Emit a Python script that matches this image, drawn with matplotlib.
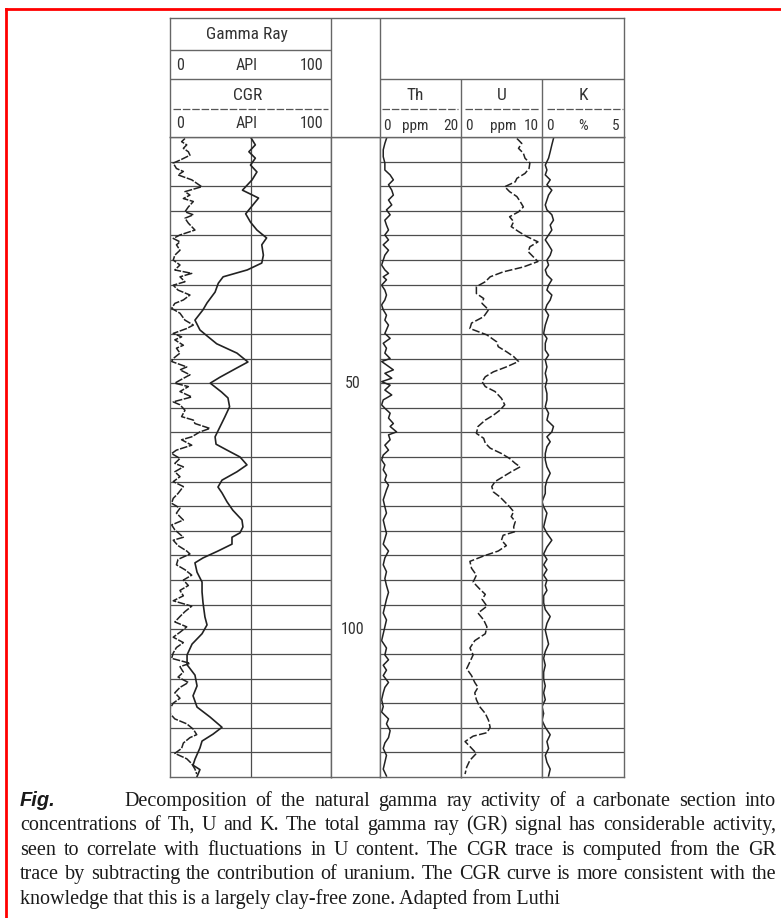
import numpy as np
import matplotlib
matplotlib.use("Agg")
import matplotlib.pyplot as plt
from matplotlib.lines import Line2D

W, H = 781, 918
TOP, BOT = 137, 777          # pixel rows of the log body
INK = "#222222"
GRID = "#4d4d4d"
EDGE = "#666666"
NARROW = ["Liberation Sans Narrow", "Roboto Condensed", "Open Sans Condensed", "DejaVu Sans"]

# total gamma ray (smooth, solid) - depth in log units, API
gr_depth = [0, 1.6, 3, 4.3, 5.7, 7.1, 8.7, 10.8, 12.4, 14, 15.6, 17.3, 18.9, 20.5, 21.9, 24, 25.6, 27, 28.4, 29.7,
            31.5, 33.7, 35.1, 37.2, 39.2, 40.4, 42, 43.9, 45.7, 46.9, 48.8, 50, 51.8, 53, 54.8, 56.9, 58.9, 60.9, 62.4, 63.6,
            65, 66.6, 68, 69.7, 71.1, 72.3, 74.1, 75.8, 77.8, 79.2, 80.4, 81.3, 82.7, 84.1, 85.5, 86.5, 88.4, 90.4, 92.4, 94.6,
            97.5, 99.1, 100.9, 103, 105.2, 107.2, 109.3, 111.5, 113.5, 115.8, 117.8, 119.9, 121.3, 122.7, 124.1, 126.4, 127.6, 128.5, 129.9]
gr_api = [50, 53, 49, 53, 50, 54, 51, 45, 55, 51, 47, 50, 54, 60, 57, 58, 57, 48, 33, 30,
          28, 23, 20.5, 15.5, 18.6, 23, 29, 41.6, 48.4, 41.6, 31, 25, 32, 36, 37, 34, 31, 28, 28.6, 35.4,
          43.5, 47.8, 41.6, 32.3, 29.8, 32.3, 35.4, 39, 44.7, 45.3, 43.5, 38.5, 38.5, 29.8, 20.5, 15.5, 16.8, 19.9, 19.9, 20.5,
          21.7, 23, 19.9, 13.7, 10.6, 10.6, 15.5, 16.8, 14.3, 16.8, 24.8, 32.3, 26.7, 19.9, 18.6, 15.5, 14.3, 18.6, 16.8]

# computed gamma ray (uranium removed, dashed)
cgr_depth = [0.3, 0.95, 1.6, 2.3, 3.0, 3.7, 4.7, 5.3, 6.4, 7.0, 7.7, 8.7, 9.4, 10.1, 11.1, 11.8, 12.5, 13.1, 14.2, 15.2,
             15.8, 16.5, 17.5, 18.9, 19.9, 20.6, 21.3, 21.9, 23, 24, 25, 26, 27, 27.7, 28.4, 29.4, 30.1, 31.1, 32.1, 33.1,
             33.8, 34.8, 35.8, 37.2, 38.2, 38.9, 39.9, 40.6, 41.2, 42.3, 42.9, 43.9, 45, 45.6, 46.7, 47.3, 48.3, 49.4, 50, 50.7,
             51.7, 52.8, 53.8, 54.4, 55.5, 56.8, 57.5, 58.2, 59.2, 59.9, 60.9, 61.5, 62.6, 63.6, 64.3, 65.3, 66.3, 67, 68, 69,
             70, 71, 72.4, 73.4, 74.4, 75.4, 76.4, 77.8, 78.8, 79.8, 81.3, 81.9, 83, 84.1, 84.7, 85.8, 86.9, 87.9, 89, 90,
             91.1, 92.1, 93.2, 94.2, 95.3, 96.4, 97.4, 98.5, 99.5, 100.6, 101.6, 102.7, 103.7, 104.8, 105.9, 106.9, 107.6, 108.7, 109.7, 110.8,
             111.8, 112.9, 114, 115, 116.1, 117.1, 118.2, 119.2, 120.3, 121.4, 122, 123.1, 124.2, 125.2, 126.3, 127.3, 128.4, 129.4]
cgr_api = [9.3, 7.2, 10.4, 8.3, 11.4, 12.4, 6.2, 2, 4, 8.3, 5, 13.5, 16.6, 19.7, 9.3, 12.4, 8.3, 14.5, 11.4, 9.3,
           14.5, 9.3, 11.4, 15.5, 6.2, 2, 6.2, 4, 6.2, 3, 2, 6.2, 3, 13.5, 6.2, 9.3, 2, 5, 12.4, 8.3,
           3, 1, 6.2, 9.3, 14.5, 10.4, 2, 7.2, 3, 8.3, 4, 6.2, 2, 1, 10.4, 6.2, 12.4, 6.2, 3, 11.4,
           6.2, 13.5, 2, 6.2, 9.3, 7.2, 14.5, 15.5, 24.8, 18.6, 13.5, 7.2, 13.5, 4, 1, 6.2, 3, 8.3, 3, 6.2,
           2, 8.3, 5, 2, 1, 6.2, 4, 8.3, 1, 3, 8.3, 2, 5, 10.4, 12.4, 5, 4, 9.3, 13.5, 8.3,
           11.4, 6.2, 8.3, 2, 13.5, 9.3, 6.2, 3, 10.4, 6.2, 2, 8.3, 4, 2, 1, 12.4, 6.2, 8.3, 5, 11.4,
           6.2, 3, 6.2, 2, 0, 0, 3, 10.4, 14.5, 16.6, 12.4, 8.3, 7.2, 3, 10.4, 13.5, 15.5, 16.6]

# thorium, ppm
th_depth = [0.3, 1.3, 2.6, 4.0, 5.3, 6.7, 7.7, 8.7, 9.7, 10.8, 11.8, 12.8, 13.8, 14.8, 15.8, 16.9, 17.9, 18.9, 19.9, 20.9,
            21.9, 23, 24, 25, 26, 27, 27.7, 28.4, 29, 30.1, 31.1, 32.1, 33.1, 34.1, 35.1, 36.2, 37.2, 38.2, 39.9, 40.9,
            41.9, 42.9, 43.9, 45, 45.6, 46.3, 47.3, 48, 49, 49.7, 50.4, 51.4, 52.4, 53.4, 54.4, 55.1, 56.1, 57.1, 58.2, 58.8,
            59.9, 60.5, 61.5, 62.6, 63.6, 64.6, 65.6, 66.6, 67.6, 68.7, 69.7, 70.7, 71.7, 72.7, 73.7, 75.1, 76.4, 77.8, 79.2, 80.5,
            82.7, 84.1, 85.5, 86.9, 88.3, 89.7, 91.1, 92.5, 93.9, 95.3, 96.7, 98.1, 99.5, 100.9, 102.3, 103.8, 105.2, 106.2, 107.3, 108.3,
            109.4, 110.8, 111.8, 112.9, 114.3, 115.7, 116.8, 118.2, 119.2, 120.6, 122, 123.1, 124.2, 125.6, 127, 128.4, 129.8]
th_ppm = [1.6, 1.2, 0.8, 0.8, 1.2, 1.2, 2.5, 3.3, 2.1, 2.9, 3.3, 2.1, 2.9, 1.6, 2.5, 1.2, 1.6, 2.1, 1.2, 2.1,
          0.8, 2.1, 1.2, 0.8, 0.4, 1.2, 2.1, 0.8, 1.6, 0.4, 1.2, 1.6, 1.2, 0.4, 0.8, 1.6, 1.2, 2.1, 1.2, 2.5,
          0.8, 1.6, 1.2, 2.5, 0.4, 1.6, 3.3, 1.2, 2.9, 0.4, 2.5, 1.2, 2.9, 0.8, 0.4, 1.2, 2.5, 2.1, 3.3, 2.5,
          4.1, 2.1, 2.5, 1.2, 2.1, 0.8, 0.4, 1.2, 0.8, 1.6, 1.2, 2.1, 1.6, 1.2, 0.8, 1.2, 1.6, 0.8, 1.2, 1.6,
          0.8, 2.1, 1.2, 0.8, 1.6, 1.2, 1.6, 2.1, 1.6, 1.2, 0.8, 1.6, 1.2, 0.8, 0.4, 1.6, 1.2, 2.1, 0.8, 1.6,
          0.8, 2.1, 1.2, 0.8, 0.4, 0.8, 0.4, 2.1, 1.6, 2.5, 2.1, 1.2, 0.8, 1.6, 1.2, 0.8, 1.6]

# uranium, ppm
u_depth = [0.3, 1.3, 2.3, 3.3, 4.3, 5.3, 6.4, 7.4, 8.4, 9.1, 10.1, 11.1, 12.1, 13.1, 14.2, 15.2, 16.2, 17.2, 18.2, 19.2,
           20.2, 21.3, 22.3, 23.3, 24.3, 25.3, 26.4, 27.4, 28.4, 29.4, 30.4, 31.8, 32.8, 33.8, 35.1, 36.5, 37.8, 38.9, 40.2, 41.6,
           42.6, 43.6, 44.6, 45.6, 46.7, 47.7, 48.7, 49.7, 50.7, 51.7, 53.1, 54.4, 55.5, 56.5, 57.5, 58.8, 60.2, 61.2, 62.2, 63.2,
           64.3, 65.3, 66.3, 67.0, 68.0, 69.0, 70.0, 71.0, 72.1, 73.1, 74.1, 75.1, 76.1, 77.1, 78.1, 79.2, 80.2, 80.9, 81.9, 83.0,
           84.1, 85.1, 86.2, 87.6, 89.0, 90.4, 91.8, 92.9, 93.9, 95.3, 96.7, 98.1, 99.5, 100.9, 102.3, 103.8, 105.2, 106.6, 108.0, 109.4,
           110.8, 111.8, 112.9, 114.3, 115.7, 117.1, 118.5, 119.9, 121.0, 121.7, 122.8, 123.8, 125.2, 126.6, 128.0, 129.4]
u_ppm = [6.9, 7.5, 7.1, 7.7, 7.9, 8.5, 8.4, 7.9, 6.9, 6.7, 5.4, 6.0, 6.9, 7.3, 7.7, 7.1, 6.0, 6.5, 6.2, 7.1,
         8.1, 9.5, 8.5, 8.3, 8.9, 9.5, 7.7, 5.2, 3.6, 3.0, 1.9, 1.9, 2.8, 2.6, 3.4, 2.8, 1.3, 1.1, 3.2, 4.4,
         4.6, 5.6, 6.5, 7.1, 5.6, 4.0, 3.0, 2.6, 3.0, 4.2, 5.0, 5.4, 4.8, 4.0, 3.0, 2.1, 1.9, 2.8, 3.0, 3.6,
         5.0, 6.0, 6.7, 7.3, 6.2, 5.2, 4.2, 3.8, 4.0, 4.8, 5.4, 6.0, 6.5, 6.2, 6.7, 6.5, 6.6, 5.2, 5.0, 5.6,
         4.6, 2.8, 1.1, 1.3, 1.9, 1.5, 2.3, 3.0, 2.6, 3.2, 2.1, 2.8, 3.2, 3.0, 1.7, 1.1, 1.5, 1.1, 0.7, 1.3,
         1.7, 2.1, 1.7, 1.9, 2.3, 3.0, 3.4, 3.6, 3.2, 1.5, 0.5, 1.1, 1.9, 1.1, 0.7, 0.5]

# potassium, %
k_depth = [0.3, 1.6, 3.0, 4.3, 5.7, 6.7, 7.7, 8.7, 9.7, 10.8, 11.8, 12.8, 13.8, 14.8, 15.8, 16.9, 17.9, 18.9, 19.9, 20.9,
           21.9, 23, 24, 25, 26, 27, 28, 29, 30.1, 31.1, 32.1, 33.1, 34.1, 35.1, 36.2, 37.2, 38.2, 39.9, 40.9, 41.9,
           43.3, 44.3, 45.3, 46.7, 48, 49.4, 50.7, 52.1, 53.4, 54.8, 56.1, 57.5, 58.8, 59.9, 60.9, 61.9, 62.9, 64.3, 65.6, 67,
           68.3, 69.7, 71, 72.4, 74.1, 75.1, 76.4, 77.8, 79.2, 80.5, 81.9, 83.3, 84.7, 85.8, 86.9, 87.9, 89, 90, 91.1, 92.1,
           93.2, 94.6, 96, 97.4, 98.8, 100.2, 101.6, 103, 104.5, 105.9, 107.3, 108.7, 110.1, 111.5, 112.9, 114.3, 115.7, 117.1, 118.5, 119.9,
           121.4, 122.8, 124.2, 125.6, 127, 128.4, 129.8]
k_pct = [0.7, 0.6, 0.5, 0.4, 0.2, 0.3, 0.2, 0.5, 0.3, 0.6, 0.4, 0.3, 0.2, 0.3, 0.6, 0.7, 0.5, 0.6, 0.4, 0.2,
         0.4, 0.6, 0.5, 0.3, 0.4, 0.2, 0.3, 0.6, 0.4, 0.3, 0.6, 0.5, 0.3, 0.2, 0.4, 0.3, 0.2, 0.1, 0.3, 0.2,
         0.2, 0.4, 0.2, 0.3, 0.2, 0.3, 0.2, 0.3, 0.3, 0.2, 0.4, 0.3, 0.7, 0.6, 0.3, 0.5, 0.3, 0.2, 0.2, 0.3,
         0.5, 0.3, 0.2, 0.2, 0.0, 0.1, 0.3, 0.2, 0.1, 0.3, 0.6, 0.3, 0.1, 0.3, 0.1, 0.3, 0.1, 0.3, 0.2, 0.3,
         0.1, 0.1, 0.2, 0.5, 0.3, 0.2, 0.3, 0.4, 0.2, 0.1, 0.2, 0.1, 0.1, 0.2, 0.1, 0.2, 0.0, 0.1, 0.0, 0.2,
         0.5, 0.3, 0.4, 0.2, 0.3, 0.5, 0.4]

depth_labels = [50, 100]

caption = [
    "concentrations of Th, U and K. The total gamma ray (GR) signal has considerable activity,",
    "seen to correlate with fluctuations in U content. The CGR trace is computed from the GR",
    "trace by subtracting the contribution of uranium. The CGR curve is more consistent with the",
    "knowledge that this is a largely clay-free zone. Adapted from Luthi",
]
caption_first = "Decomposition of the natural gamma ray activity of a carbonate section into"

fig = plt.figure(figsize=(W / 100, H / 100), dpi=100)


def rect(x0, y0, x1, y1):
    return [x0 / W, 1 - y1 / H, (x1 - x0) / W, (y1 - y0) / H]


def frame(ax, color=EDGE, lw=1.0):
    for s in ax.spines.values():
        s.set_color(color)
        s.set_linewidth(lw)


def track(x0, x1, xmax, vgrid=()):
    ax = fig.add_axes(rect(x0, TOP, x1, BOT))
    ax.set_xlim(0, xmax)
    ax.set_ylim(130, 0)
    ax.set_yticks(np.arange(5, 130, 5))
    ax.set_xticks(list(vgrid))
    ax.tick_params(length=0, labelleft=False, labelbottom=False)
    ax.grid(True, color=GRID, lw=0.9)
    ax.set_axisbelow(True)
    frame(ax)
    return ax


# gamma ray track
ax_gr = track(170, 331, 100, vgrid=[50])
ax_gr.plot(gr_api, gr_depth, color=INK, lw=1.2)
ax_gr.plot(cgr_api, cgr_depth, color=INK, lw=1.1, ls=(0, (5, 1)))

# depth column
ax_d = fig.add_axes(rect(331, TOP, 380, BOT))
ax_d.set_ylim(130, 0)
ax_d.set_xticks([])
ax_d.set_yticks([])
frame(ax_d)
for d in depth_labels:
    ax_d.text(0.45, d, str(d), transform=ax_d.get_yaxis_transform(), ha="center", va="center",
              fontsize=11.5, family=NARROW, stretch="condensed", color="#333333")

# spectral tracks
ax_th = track(380, 461, 20)
ax_th.plot(th_ppm, th_depth, color=INK, lw=1.1)
ax_u = track(461, 542, 10)
ax_u.plot(u_ppm, u_depth, color=INK, lw=1.1, ls=(0, (5, 1.6)))
ax_k = track(542, 624, 5)
ax_k.plot(k_pct, k_depth, color=INK, lw=1.1)

# header block
hd = fig.add_axes(rect(170, 18, 624, TOP))
hd.set_xlim(170, 624)
hd.set_ylim(TOP, 18)
hd.set_xticks([])
hd.set_yticks([])
frame(hd)
hd.vlines([331, 380], 18, TOP, color=EDGE, lw=1.0)
hd.hlines([50, 79], 170, 331, color=EDGE, lw=1.0)
hd.hlines(79, 380, 624, color=EDGE, lw=1.0)
hd.vlines([461, 542], 79, TOP, color=EDGE, lw=1.0)
dash = (0, (6, 1.5))
for a, b in [(173, 328), (382, 458), (465, 540), (547, 623)]:
    hd.hlines(109, a, b, color="#555555", lw=0.9, linestyles=[dash])

hfont = dict(family=NARROW, stretch="condensed", color="#333333", va="center", ha="center")
hd.text(247, 35, "Gamma Ray", fontsize=12.5, **hfont)
hd.text(248, 95, "CGR", fontsize=12.5, **hfont)
for y in (66, 124):
    hd.text(180, y, "0", fontsize=11.5, **hfont)
    hd.text(247, y, "API", fontsize=11.5, **hfont)
    hd.text(312, y, "100", fontsize=11.5, **hfont)
for x, s in [(415, "Th"), (502, "U"), (583, "K")]:
    hd.text(x, 95, s, fontsize=12.5, **hfont)
for x, s in [(387, "0"), (415, "ppm"), (451, "20"), (469, "0"), (503, "ppm"), (531, "10"),
             (550, "0"), (583, "%"), (616, "5")]:
    hd.text(x, 126, s, fontsize=11, **hfont)

# red border
fig.add_artist(Line2D([6 / W, 1], [1 - 9 / H, 1 - 9 / H], color="red", lw=2))
fig.add_artist(Line2D([6 / W, 6 / W], [0, 1 - 9 / H], color="red", lw=2))

# caption, justified line by line
renderer = fig.canvas.get_renderer()
serif = dict(family="Liberation Serif", fontsize=14.5, color="#1a1a1a", va="baseline")


def justify(words, x0, x1, y):
    texts = [fig.text(0, 1 - y / H, w, **serif) for w in words]
    widths = [t.get_window_extent(renderer).width for t in texts]
    gap = (x1 - x0 - sum(widths)) / (len(words) - 1)
    x = x0
    for t, w in zip(texts, widths):
        t.set_x(x / W)
        x += w + gap


base = [806, 830, 855, 879, 904]
fig.text(20 / W, 1 - base[0] / H, "Fig.", family="Liberation Sans", fontsize=14.5,
         weight="bold", style="italic", color="#1a1a1a", va="baseline")
justify(caption_first.split(), 124, 776, base[0])
for line, y in zip(caption[:3], base[1:4]):
    justify(line.split(), 20, 776, y)
fig.text(20 / W, 1 - base[4] / H, caption[3], **serif)

fig.savefig("out.png", dpi=100)
